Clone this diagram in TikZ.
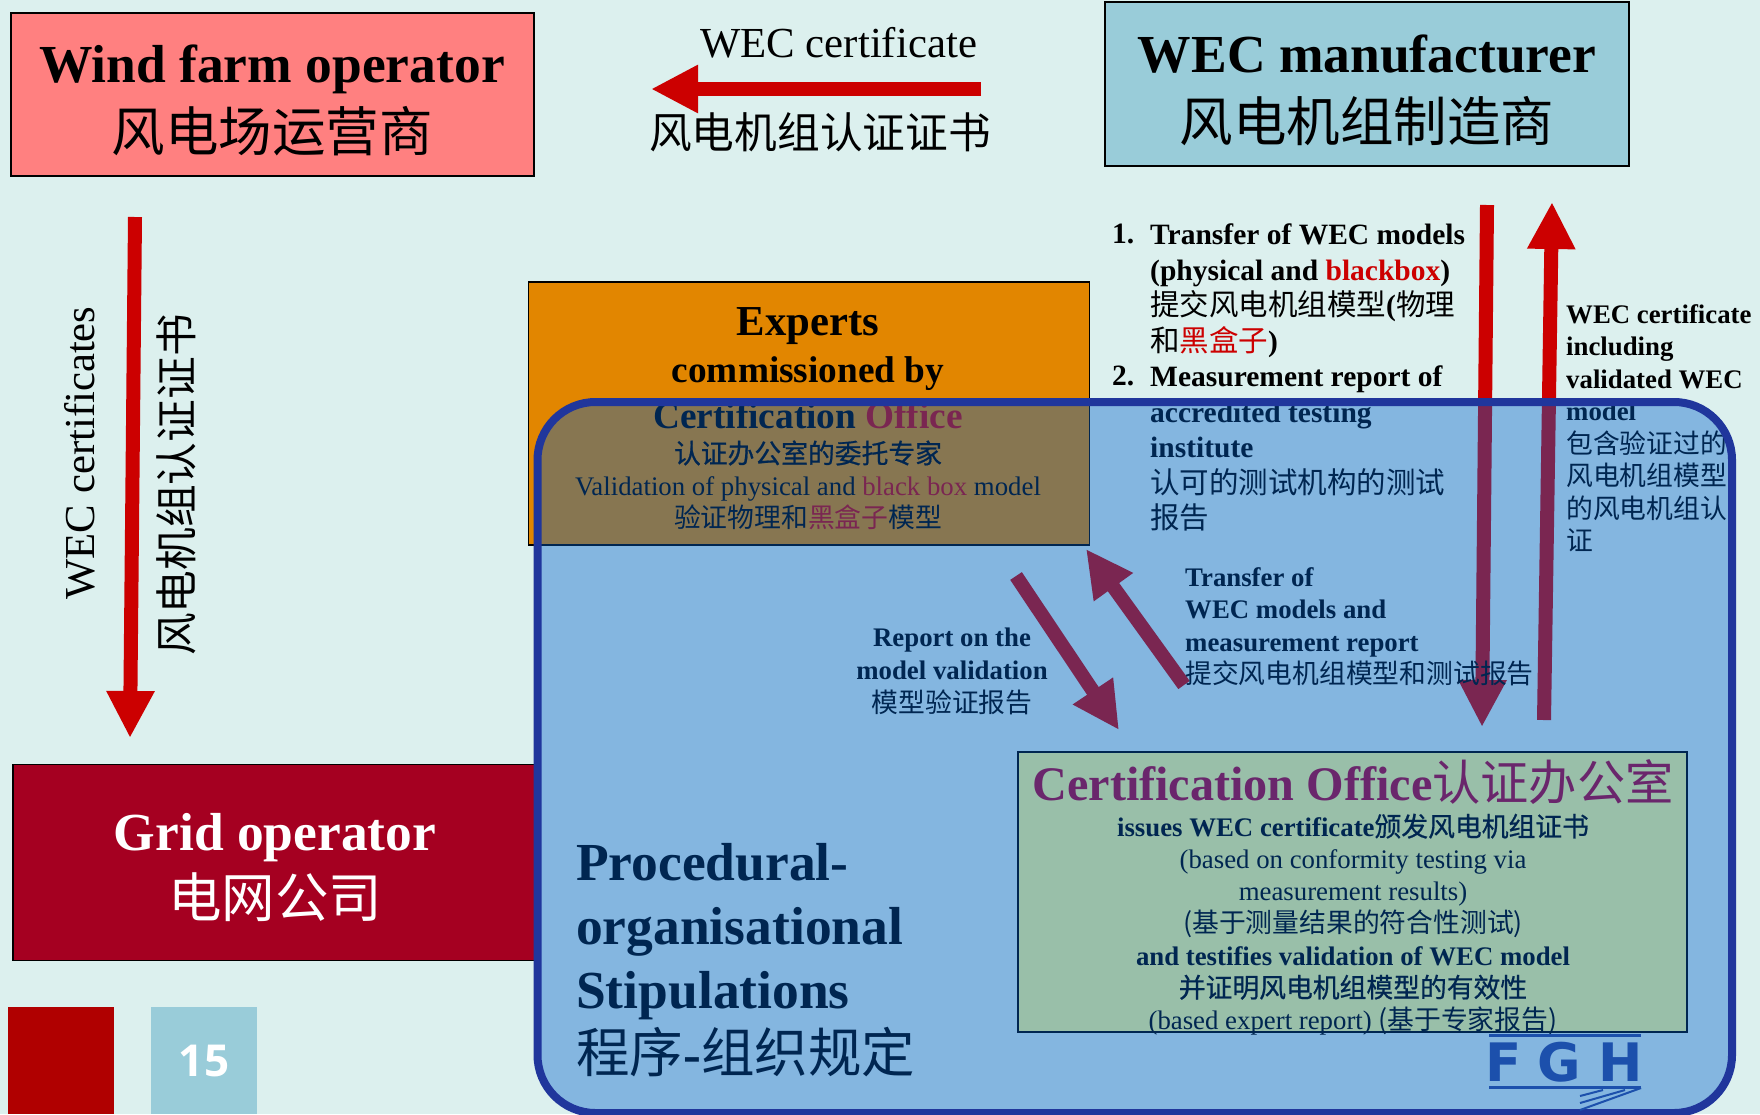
\documentclass[tikz,border=0pt]{standalone}
\usepackage{fontspec}
\usetikzlibrary{arrows.meta}
\setmainfont{Liberation Serif}
\newfontfamily\cjk{Noto Sans CJK SC}
\newfontfamily\cjkb[FakeBold=0.7]{Noto Sans CJK SC}
\newfontfamily\numfont{Open Sans}
\newfontfamily\logofont{DejaVu Sans}
\newcommand{\zh}[1]{{\cjk #1}}
\newcommand{\zhb}[1]{{\mdseries\cjkb #1}}
\definecolor{slidebg}{HTML}{DCF0EE}
\definecolor{windred}{HTML}{FF8080}
\definecolor{wecblue}{HTML}{99CCD9}
\definecolor{gridred}{HTML}{A50021}
\definecolor{expertorange}{HTML}{E28600}
\definecolor{certyellow}{HTML}{FFFF93}
\definecolor{arrowred}{HTML}{CC0000}
\definecolor{titlered}{HTML}{B2002D}
\definecolor{squarered}{HTML}{B00000}
\definecolor{veilblue}{HTML}{005FCB}
\definecolor{veilline}{HTML}{20369C}
\definecolor{logoblue}{HTML}{1C50AC}
\tikzset{
    box/.style={draw=black, line width=1.6pt, rectangle, inner sep=0pt},
    lbl/.style 2 args={font=\fontsize{#1}{#2}\selectfont, align=center, inner sep=0pt},
    lblb/.style 2 args={font=\fontsize{#1}{#2}\selectfont\bfseries, align=center, inner sep=0pt},
    lbll/.style 2 args={font=\fontsize{#1}{#2}\selectfont\bfseries, align=left, inner sep=0pt, anchor=north west},
    logoletter/.style={inner sep=0pt, text=logoblue, font=\logofont\bfseries\fontsize{53}{53}\selectfont},
    bigarrow/.style={draw=arrowred, line width=14pt, -{Triangle[length=47pt,width=45pt]}}
}
\begin{document}
\begin{tikzpicture}[x=1pt, y=-1pt]
                \useasboundingbox (0,0) rectangle (1760,1114);
                \fill[slidebg] (0,0) rectangle (1760,1114);

                \node[rectangle, fill=squarered, minimum width=106pt, minimum height=107pt, inner sep=0pt] (redsquare) at (61,1060.5) {};
                \node[rectangle, fill=wecblue, minimum width=106pt, minimum height=107pt, inner sep=0pt, font=\numfont\bfseries\fontsize{44}{44}\selectfont, text=white] (pagenum) at (204,1060.5) {15};

                % boxes
                \node[box, fill=windred, minimum width=523pt, minimum height=163pt] (windfarm) at (272.5,94.5) {};
                \node[box, fill=wecblue, minimum width=524pt, minimum height=164pt] (wecmaker) at (1367,84) {};
                \node[box, fill=gridred, minimum width=524pt, minimum height=196pt] (gridop) at (275,862.5) {};
                \node[box, fill=expertorange, minimum width=561pt, minimum height=263pt] (experts) at (809,413.5) {};
                \node[box, fill=certyellow, minimum width=669pt, minimum height=280pt] (certoffice) at (1352.5,892) {};

                % arrows
                \coordinate (certstart) at (981,89);
                \coordinate (certend) at (651,89);
                \coordinate (wfstart) at (135,217);
                \coordinate (wfend) at (130,738);
                \coordinate (modelstart) at (1487,205);
                \coordinate (modelend) at (1482,727);
                \coordinate (backstart) at (1544,720);
                \coordinate (backend) at (1552,202);
                \coordinate (reportstart) at (1016,576);
                \coordinate (reportend) at (1119,730);
                \coordinate (transferstart) at (1184,685);
                \coordinate (transferend) at (1086,549);
                \draw[bigarrow] (certstart) -- (certend);
                \draw[bigarrow] (wfstart) -- (wfend);
                \draw[bigarrow] (modelstart) -- (modelend);
                \draw[bigarrow] (backstart) -- (backend);
                \draw[bigarrow] (reportstart) -- (reportend);
                \draw[bigarrow] (transferstart) -- (transferend);

                % texts
                \node[lblb={53.5}{69}] (windfarmtext) at (272,100.5) {Wind farm operator\\\zh{\mdseries 风电场运营商}};
                \node[lblb={53.5}{69}] (wecmakertext) at (1367,90) {WEC manufacturer\\\zh{\mdseries 风电机组制造商}};
                \node[lblb={53.5}{67}, text=white] (gridoptext) at (275,868) {Grid operator\\\zh{\mdseries 电网公司}};
                \node[lbl={42.8}{43}] (certtop) at (838.5,43) {WEC certificate};
                \node[lbl={42.7}{43}] (certbottom) at (820,132) {\zh{风电机组认证证书}};
                \node[lbl={42.7}{43}, rotate=90] (wflatin) at (80,453) {WEC certificates};
                \node[lbl={42.7}{43}, rotate=90] (wfcn) at (176,485) {\zh{风电机组认证证书}};

                \node[lblb={42.7}{46}] (expertsname) at (808,326.5) {Experts};
                \node[lblb={37.3}{46}] (expertstitle) at (808,393) {commissioned by\\Certification \textcolor{arrowred}{Office}};
                \node[lbl={26.8}{32}] (expertsbody) at (808,485) {\zhb{认证办公室的委托专家}\\Validation of physical and \textcolor{arrowred}{black box} model\\\zh{验证物理和\textcolor{arrowred}{黑盒子}模型}};

                \node[lbll={29.5}{35.5}] (listone) at (1112,224) {1.};
                \node[lbll={29.5}{35.5}] (listtwo) at (1112,366) {2.};
                \node[lbll={29.5}{35.5}] (listtext) at (1150,224) {Transfer of WEC models\\(physical and \textcolor{arrowred}{blackbox})\\\zh{\mdseries 提交风电机组模型}(\zh{\mdseries 物理}\\\zh{\mdseries 和\textcolor{arrowred}{黑盒子}})\\Measurement report of\\accredited testing\\institute\\\zh{\mdseries 认可的测试机构的测试}\\\zh{\mdseries 报告}};

                \node[lbll={26.8}{32.5}] (backtext) at (1566,304) {WEC certificate\\including\\validated WEC\\model\\\zh{\mdseries 包含验证过的}\\\zh{\mdseries 风电机组模型}\\\zh{\mdseries 的风电机组认}\\\zh{\mdseries 证}};
                \node[lbll={26.8}{32.5}] (transfertext) at (1185,567) {Transfer of\\WEC models and\\measurement report\\\zh{\mdseries 提交风电机组模型和测试报告}};
                \node[lblb={26.8}{33}] (reporttext) at (952,671) {Report on the\\model validation\\\zh{\mdseries 模型验证报告}};

                \node[lbll={53.5}{64}] (stipulations) at (576,843) {Procedural-\\organisational\\Stipulations\\\zh{\mdseries 程序}-\zh{\mdseries 组织规定}};

                \node[lblb={48.2}{48}, text=titlered] (certtitle) at (1353,782) {Certification Office\zh{\mdseries 认证办公室}};
                \node[lbl={26.8}{32.2}] (certbody) at (1353,924.5) {\bfseries issues WEC certificate\zhb{颁发风电机组证书}\\(based on conformity testing via\\measurement results)\\\zh{(基于测量结果的符合性测试)}\\\bfseries and testifies validation of WEC model\\\zhb{并证明风电机组模型的有效性}\\(based expert report) \zh{(基于专家报告)}};

                % rounded frame over everything below it
                \path[fill=veilblue, fill opacity=0.4, draw=veilline, draw opacity=1, line width=8pt, rounded corners=58pt] (537.5,402) rectangle (1732,1113);

                % logo
                \node[logoletter] (logof) at (1503.5,1062.5) {F};
                \node[logoletter] (logog) at (1559,1062.5) {G};
                \node[logoletter] (logoh) at (1621,1062.5) {H};
                \draw[logoblue, line width=3pt] (1489,1035) -- (1641,1035);
                \draw[logoblue, line width=3pt] (1489,1087) -- (1641,1087);
                \draw[logoblue, line width=2pt] (1641,1088) -- (1580,1110);
                \draw[logoblue, line width=2pt] (1580,1096) -- (1603,1090);
                \draw[logoblue, line width=2pt] (1580,1103) -- (1625,1090);
\end{tikzpicture}
\end{document}
